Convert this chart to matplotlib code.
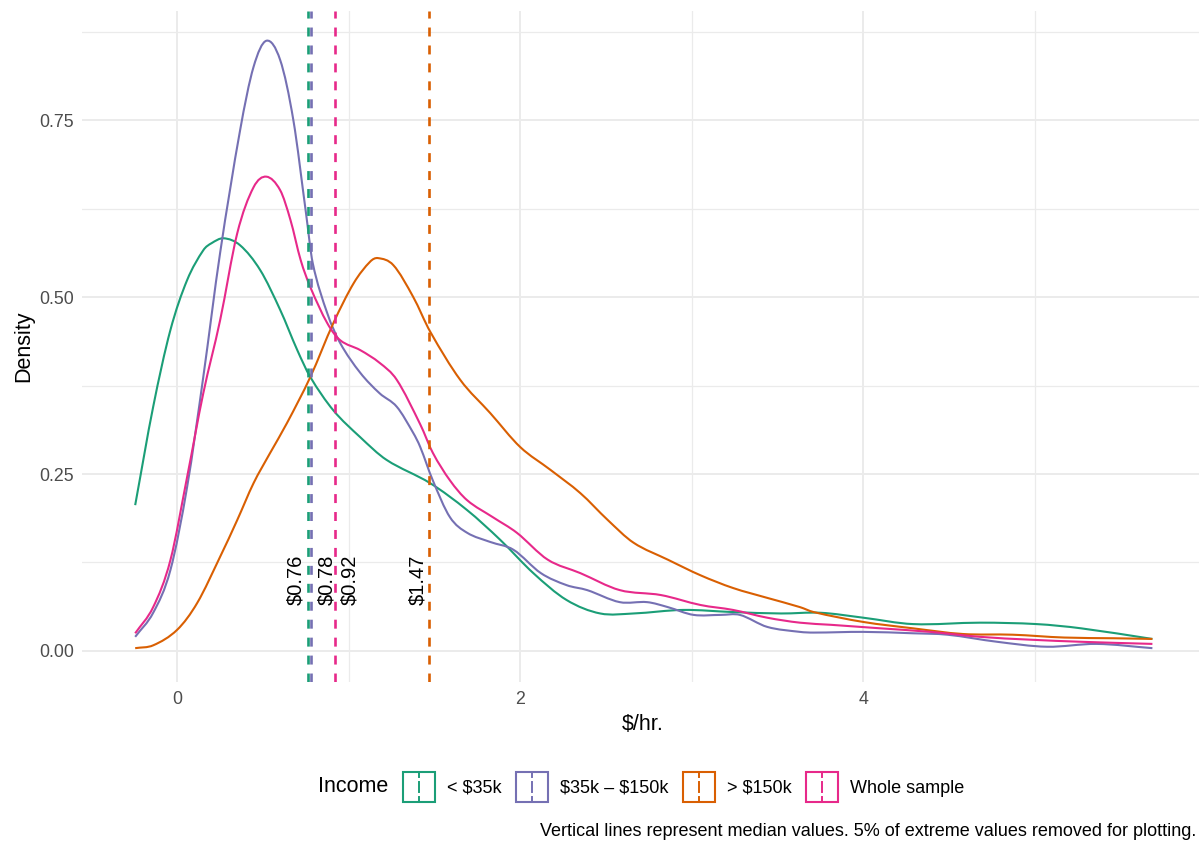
import matplotlib
matplotlib.use("Agg")
import matplotlib.pyplot as plt
from matplotlib.legend_handler import HandlerBase
from matplotlib.lines import Line2D
from matplotlib.patches import Rectangle, PathPatch
from matplotlib.path import Path

plt.rcParams["font.family"] = ["Liberation Sans", "DejaVu Sans"]
plt.rcParams["text.parse_math"] = False

# density curves
low_x = [-0.245, -0.14, -0.04, 0.058, 0.152, 0.20, 0.27, 0.367, 0.484, 0.60, 0.70, 0.776,
         0.91, 1.067, 1.22, 1.475, 1.69, 1.883, 2.076, 2.27, 2.466, 2.66, 2.95, 3.24,
         3.52, 3.75, 4.0, 4.29, 4.68, 5.01, 5.27, 5.685]
low_y = [0.206, 0.345, 0.453, 0.524, 0.566, 0.576, 0.583, 0.573, 0.538, 0.482, 0.425, 0.387,
         0.340, 0.302, 0.270, 0.237, 0.199, 0.157, 0.110, 0.072, 0.053, 0.053, 0.058, 0.055,
         0.053, 0.054, 0.047, 0.038, 0.040, 0.038, 0.032, 0.017]

mid_x = [-0.245, -0.14, -0.04, 0.058, 0.152, 0.25, 0.367, 0.445, 0.52, 0.60, 0.677,
         0.75, 0.79, 0.875, 0.95, 1.067, 1.18, 1.28, 1.376, 1.417, 1.49, 1.59, 1.69, 1.825,
         1.96, 2.12, 2.27, 2.39, 2.58, 2.74, 2.86, 3.01, 3.17, 3.28, 3.44, 3.63, 3.71, 4.0,
         4.29, 4.49, 4.78, 5.07, 5.36, 5.685]
mid_y = [0.020, 0.054, 0.114, 0.232, 0.387, 0.562, 0.736, 0.825, 0.862, 0.835, 0.750,
         0.620, 0.548, 0.477, 0.435, 0.393, 0.364, 0.345, 0.308, 0.288, 0.241, 0.189, 0.167, 0.154,
         0.143, 0.110, 0.093, 0.086, 0.069, 0.069, 0.062, 0.051, 0.051, 0.051, 0.034, 0.027, 0.026, 0.027,
         0.025, 0.023, 0.013, 0.006, 0.010, 0.004]

high_x = [-0.245, -0.14, 0.0, 0.117, 0.25, 0.35, 0.445, 0.54, 0.64, 0.776, 0.91, 1.03,
          1.125, 1.17, 1.26, 1.376, 1.475, 1.65, 1.825, 2.0, 2.175, 2.35, 2.51, 2.66,
          2.86, 3.05, 3.24, 3.44, 3.63, 3.71, 4.0, 4.29, 4.58, 4.87, 5.17, 5.46, 5.685]
high_y = [0.004, 0.008, 0.030, 0.068, 0.133, 0.185, 0.237, 0.279, 0.322, 0.387, 0.463, 0.520,
          0.550, 0.555, 0.545, 0.500, 0.451, 0.383, 0.336, 0.288, 0.256, 0.223, 0.185, 0.153,
          0.129, 0.107, 0.089, 0.075, 0.062, 0.055, 0.041, 0.032, 0.024, 0.023, 0.019, 0.018, 0.017]

all_x = [-0.245, -0.14, -0.04, 0.058, 0.152, 0.25, 0.35, 0.445, 0.52, 0.60, 0.66,
         0.72, 0.776, 0.875, 0.95, 1.067, 1.18, 1.28, 1.417, 1.49, 1.59, 1.69, 1.84, 1.98,
         2.16, 2.35, 2.58, 2.82, 3.05, 3.24, 3.44, 3.63, 3.81, 4.10, 4.39, 4.68, 4.97, 5.27, 5.685]
all_y = [0.025, 0.062, 0.128, 0.246, 0.364, 0.467, 0.590, 0.655, 0.670, 0.651, 0.609,
         0.552, 0.514, 0.463, 0.439, 0.425, 0.407, 0.383, 0.320, 0.280, 0.241, 0.213, 0.189, 0.167,
         0.129, 0.110, 0.086, 0.079, 0.065, 0.058, 0.047, 0.040, 0.037, 0.032, 0.027, 0.020, 0.016, 0.013, 0.010]

groups = ["< $35k", "$35k – $150k", "> $150k", "Whole sample"]
medians = [0.76, 0.78, 1.47, 0.92]
median_labels = ["$0.76", "$0.78", "$1.47", "$0.92"]
curves = [(low_x, low_y), (mid_x, mid_y), (high_x, high_y), (all_x, all_y)]

colors = ["#1B9E77", "#7570B3", "#D95F02", "#E7298A"]
label_dx = [-8.6, 11.5, -8.6, 10.3]  # points, label offset from its line


def smooth_path(xs, ys):
    # draw the read points as a smooth Hermite/Bezier curve
    n = len(xs)
    slopes = []
    for i in range(n):
        j0, j1 = max(i - 1, 0), min(i + 1, n - 1)
        slopes.append((ys[j1] - ys[j0]) / (xs[j1] - xs[j0]))
    verts = [(xs[0], ys[0])]
    codes = [Path.MOVETO]
    for i in range(n - 1):
        h = xs[i + 1] - xs[i]
        verts += [(xs[i] + h / 3, ys[i] + slopes[i] * h / 3),
                  (xs[i + 1] - h / 3, ys[i + 1] - slopes[i + 1] * h / 3),
                  (xs[i + 1], ys[i + 1])]
        codes += [Path.CURVE4] * 3
    return Path(verts, codes)


class BoxDashHandler(HandlerBase):
    def create_artists(self, legend, orig_handle, xdescent, ydescent,
                       width, height, fontsize, trans):
        c = orig_handle.get_color()
        x0, y0 = -xdescent, -ydescent
        box = Rectangle((x0, y0), width, height, fill=False, edgecolor=c,
                        lw=1.5, transform=trans)
        cx = x0 + width / 2
        arts = [box]
        for a, b in [(0.0, 0.16), (0.34, 0.66), (0.84, 1.0)]:
            arts.append(Line2D([cx, cx], [y0 + a * height, y0 + b * height],
                               color=c, lw=1.4, transform=trans))
        return arts


fig = plt.figure(figsize=(11.99, 8.43), dpi=100)
ax = fig.add_axes([82 / 1199, 1 - 682 / 843, (1203 - 82) / 1199, (682 - 11) / 843])

for (xs, ys), c in zip(curves, colors):
    ax.add_patch(PathPatch(smooth_path(xs, ys), fill=False, edgecolor=c, lw=1.5,
                           capstyle="butt", zorder=3))

for m, c in zip(medians, colors):
    ax.axvline(m, color=c, lw=1.9, linestyle=(0, (3.4, 3.4)), zorder=4)

for m, lab, dx in zip(medians, median_labels, label_dx):
    ax.annotate(lab, xy=(m, 0.065), xytext=(dx, 0), textcoords="offset points",
                rotation=90, ha="center", va="bottom", fontsize=14.5, color="black",
                zorder=5)

ax.set_xlim(-0.555, 5.98)
ax.set_ylim(-0.0438, 0.904)
ax.set_xticks([0, 2, 4])
ax.set_xticks([1, 3, 5], minor=True)
ax.set_yticks([0, 0.25, 0.5, 0.75])
ax.set_yticklabels(["0.00", "0.25", "0.50", "0.75"])
ax.set_yticks([0.125, 0.375, 0.625, 0.875], minor=True)
ax.grid(which="major", color="#EBEBEB", lw=1.4, zorder=0)
ax.grid(which="minor", color="#EBEBEB", lw=0.9, zorder=0)
ax.set_axisbelow(True)
for s in ax.spines.values():
    s.set_visible(False)
ax.tick_params(which="both", length=0, labelsize=12.8, labelcolor="#4D4D4D")
ax.tick_params(axis="x", pad=6.5)
ax.tick_params(axis="y", pad=5.5)
ax.set_xlabel("$/hr.", fontsize=15.5, labelpad=4)
ax.set_ylabel("Density", fontsize=15.5, labelpad=4)

handles = [Line2D([], [], color=c) for c in colors]
fig.legend(handles, groups, handler_map={Line2D: BoxDashHandler()},
           loc="center left", bbox_to_anchor=(403 / 1199, 1 - 787 / 843),
           bbox_transform=fig.transFigure, ncol=4, frameon=False, fontsize=13,
           handlelength=1.77, handleheight=2.2, handletextpad=0.68,
           columnspacing=0.78, borderpad=0, borderaxespad=0)
fig.text(318 / 1199, 1 - 787 / 843, "Income", fontsize=15.5, ha="left", va="center")
fig.text(0.998, 1 - 831 / 843,
         "Vertical lines represent median values. 5% of extreme values removed for plotting.",
         fontsize=13, ha="right", va="center")

fig.savefig("out.png", dpi=100)
